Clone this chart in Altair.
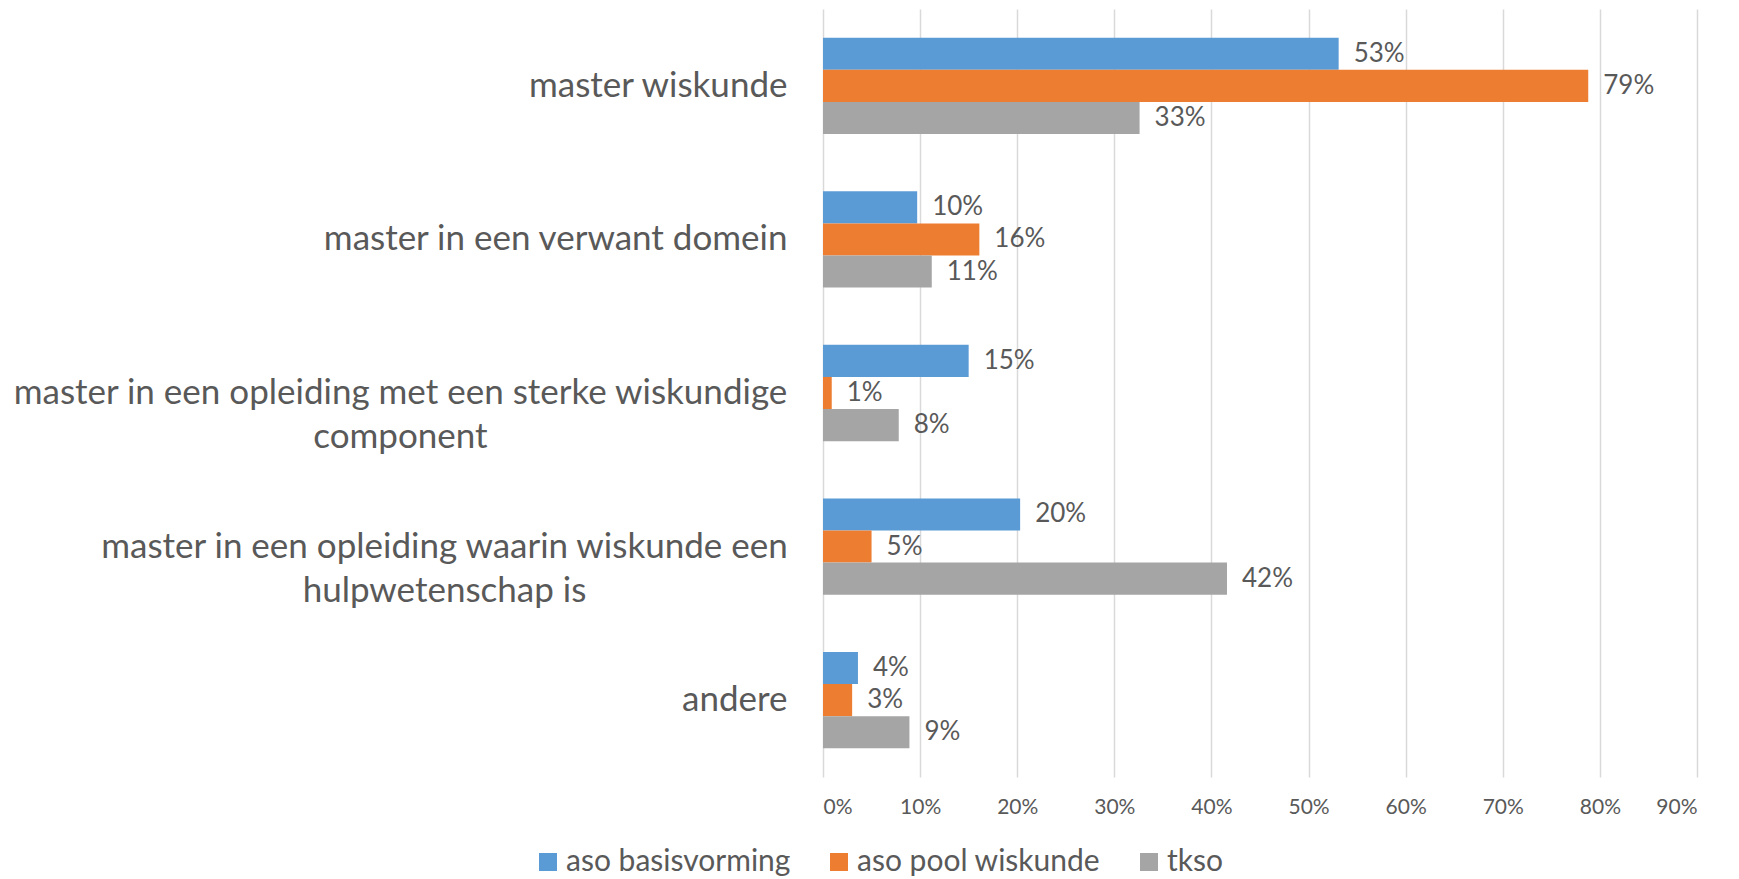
import altair as alt
import pandas as pd

categories = [
    "master wiskunde",
    "master in een verwant domein",
    "master in een opleiding met een sterke wiskundige component",
    "master in een opleiding waarin wiskunde een hulpwetenschap is",
    "andere",
]
series = ["aso basisvorming", "aso pool wiskunde", "tkso"]
aso_basis = [53.1, 9.7, 15.0, 20.3, 3.6]
aso_pool = [78.8, 16.1, 0.9, 5.0, 3.0]
tkso = [32.6, 11.2, 7.8, 41.6, 8.9]
colors = ["#5B9BD5", "#ED7D31", "#A5A5A5"]
x_ticks = [0, 10, 20, 30, 40, 50, 60, 70, 80, 90]

rows = []
for s, vals in zip(series, [aso_basis, aso_pool, tkso]):
    for c, v in zip(categories, vals):
        rows.append({"categorie": c, "reeks": s, "waarde": v})
df = pd.DataFrame(rows)

FONT = "Lato"
TXT = "#595959"
CAT_SIZE = 35
PAD = 36

# wrapped category labels; the two lines are centred on each other
wrapped = {
    categories[2]: (["master in een opleiding met een sterke wiskundige", "component"], 774),
    categories[3]: (["master in een opleiding waarin wiskunde een", "hulpwetenschap is"], 686),
}

expr = "datum.value"
for cat, (lines, _) in wrapped.items():
    arr = ", ".join(f"'{l}'" for l in lines)
    expr = f"datum.value == '{cat}' ? [{arr}] : " + expr

align_cond = {
    "condition": [
        {"test": f"datum.value == '{cat}'", "value": "center"} for cat in wrapped
    ],
    "value": "right",
}
pad_cond = {
    "condition": [
        {"test": f"datum.value == '{cat}'", "value": PAD + w / 2}
        for cat, (_, w) in wrapped.items()
    ],
    "value": PAD,
}

y_enc = alt.Y(
    "categorie:N",
    sort=categories,
    scale=alt.Scale(paddingInner=0.373, paddingOuter=0.187),
    axis=alt.Axis(
        title=None,
        ticks=False,
        domain=False,
        labelExpr=expr,
        labelFontSize=CAT_SIZE,
        labelColor=TXT,
        labelFont=FONT,
        labelLimit=1000,
        labelAlign=align_cond,
        labelPadding=pad_cond,
        labelLineHeight=44,
    ),
)
yoff = alt.YOffset("reeks:N", sort=series, scale=alt.Scale(paddingInner=0, paddingOuter=0))
x_enc = alt.X(
    "waarde:Q",
    scale=alt.Scale(domain=[0, 90], nice=False),
    axis=alt.Axis(
        title=None,
        values=x_ticks,
        labelExpr="datum.value + '%'",
        ticks=False,
        domain=False,
        grid=True,
        gridColor="#D9D9D9",
        gridWidth=1.5,
        labelFontSize=21,
        labelColor=TXT,
        labelFont=FONT,
        labelPadding=19,
    ),
)

base = alt.Chart(df)
bars = base.mark_bar().encode(
    x=x_enc,
    y=y_enc,
    yOffset=yoff,
    color=alt.Color(
        "reeks:N",
        sort=series,
        scale=alt.Scale(domain=series, range=colors),
        legend=alt.Legend(
            title=None,
            orient="none",
            direction="horizontal",
            legendX=-290,
            legendY=838,
            symbolType="square",
            symbolSize=324,
            symbolStrokeWidth=0,
            labelFontSize=30,
            labelFont=FONT,
            labelColor=TXT,
            labelLimit=600,
            columnPadding=33,
            labelOffset=3,
        ),
    ),
)
labels = base.transform_calculate(
    lbl="format(datum.waarde, '.0f') + '%'"
).mark_text(
    align="left", baseline="middle", dx=15, fontSize=26, font=FONT, color=TXT
).encode(
    x="waarde:Q",
    y=alt.Y("categorie:N", sort=categories),
    yOffset=alt.YOffset("reeks:N", sort=series),
    text="lbl:N",
)

chart = (
    alt.layer(bars, labels)
    .properties(
        width=874,
        height=768,
        autosize=alt.AutoSizeParams(type="none"),
        padding={"left": 815, "top": 1, "right": 30, "bottom": 100},
    )
    .configure(font=FONT)
    .configure_view(stroke=None)
)

chart.save("out.html", embed_options={"renderer": "svg", "actions": False})
